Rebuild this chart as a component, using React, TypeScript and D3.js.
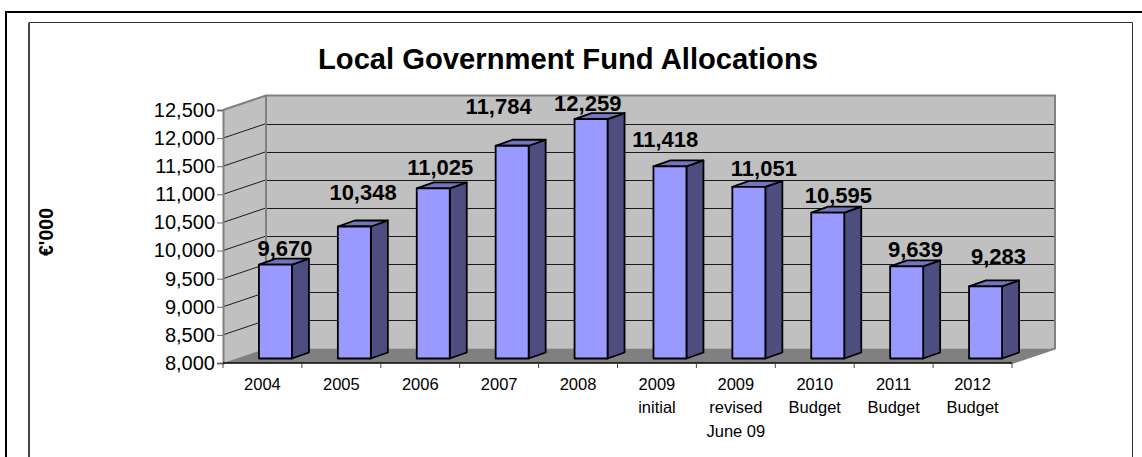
import React, {useRef, useEffect} from "react";
import * as d3 from "d3";

const categories = [
  ["2004"],
  ["2005"],
  ["2006"],
  ["2007"],
  ["2008"],
  ["2009", "initial"],
  ["2009", "revised", "June 09"],
  ["2010", "Budget"],
  ["2011", "Budget"],
  ["2012", "Budget"],
];
const values = [9670, 10348, 11025, 11784, 12259, 11418, 11051, 10595, 9639, 9283];
const yTicks = [8000, 8500, 9000, 9500, 10000, 10500, 11000, 11500, 12000, 12500];

// hand placed data labels, relative to the top of each bar
const labelDx = [9.6, 8.7, 7, -13.5, -3.3, -4.7, 15, 10.6, 8.8, 13];
const labelDy = [-8.6, -26.5, -13.4, -31.8, -8, -19.3, -11, -9.6, -9.4, -22.4];

const FONT = "Liberation Sans, Arial, sans-serif";

export default function App() {
  const svgRef = useRef<SVGSVGElement>(null);

  useEffect(() => {
    const svg = d3.select(svgRef.current);
    svg.selectAll("*").remove();

    const left = 223;
    const right = 1012;
    const top = 110;
    const bottom = 363;
    // depth of the 3D box and of one bar
    const depthX = 43;
    const depthY = -14.5;
    const barDepthX = 17;
    const barDepthY = -6;
    const barInsetX = 13;
    const barInsetY = -4.5;
    const barWidth = 33;

    const x = d3.scaleBand().domain(categories.map((_, i) => String(i))).range([left, right]);
    const y = d3.scaleLinear().domain([8000, 12500]).range([bottom, top]);
    const poly = (pts: number[][]) => `M${pts.map((p) => p.join(",")).join("L")}Z`;

    // Frame lines
    const frame = (d: string, stroke: string, w: number) =>
      svg.append("path").attr("d", d).attr("fill", "none").attr("stroke", stroke).attr("stroke-width", w);
    frame("M6,457V12H1142", "#000", 2);
    frame("M29,457V22.5H1132.5V457", "#333", 1);
    frame("M29,23V457", "#444", 2);

    // Walls and floor
    svg.append("path")
      .attr("d", poly([[left + depthX, top + depthY], [right + depthX, top + depthY], [right + depthX, bottom + depthY], [left + depthX, bottom + depthY]]))
      .attr("fill", "#c0c0c0");
    svg.append("path")
      .attr("d", poly([[left, top], [left + depthX, top + depthY], [left + depthX, bottom + depthY], [left, bottom]]))
      .attr("fill", "#c0c0c0");
    svg.append("path")
      .attr("d", poly([[left, bottom], [left + depthX, bottom + depthY], [right + depthX, bottom + depthY], [right, bottom]]))
      .attr("fill", "#808080");

    // Grid lines
    const grid = yTicks.filter((t) => t > 8000 && t < 12500);
    svg.selectAll(".grid-back")
      .data(grid)
      .join("line")
      .attr("class", "grid-back")
      .attr("x1", left + depthX)
      .attr("x2", right + depthX)
      .attr("y1", (d) => Math.round(y(d) + depthY) + 0.5)
      .attr("y2", (d) => Math.round(y(d) + depthY) + 0.5)
      .attr("stroke", "#1a1a1a");
    svg.selectAll(".grid-side")
      .data(grid)
      .join("line")
      .attr("class", "grid-side")
      .attr("x1", left)
      .attr("x2", left + depthX)
      .attr("y1", (d) => y(d))
      .attr("y2", (d) => y(d) + depthY)
      .attr("stroke", "#1a1a1a");

    // Wall edges
    frame(`M${left},${top}L${left + depthX},${top + depthY}H${right + depthX}V${bottom + depthY}L${right},${bottom}`, "#808080", 2);
    frame(`M${left + depthX},${top + depthY}V${bottom + depthY}`, "#808080", 2);

    // Bars
    const bars = svg.selectAll(".bar")
      .data(values)
      .join("g")
      .attr("class", "bar")
      .attr("stroke", "#000")
      .attr("stroke-width", 1.8)
      .attr("stroke-linejoin", "round");
    const barLeft = (i: number) => x(String(i))! + x.bandwidth() / 2 + barInsetX - barWidth / 2;
    const barBase = bottom + barInsetY;
    bars.append("path")
      .attr("fill", "#4d4d80")
      .attr("d", (d, i) => {
        const r = barLeft(i) + barWidth;
        const t = y(d) + barInsetY;
        return poly([[r, t], [r + barDepthX, t + barDepthY], [r + barDepthX, barBase + barDepthY], [r, barBase]]);
      });
    bars.append("path")
      .attr("fill", "#7373bf")
      .attr("d", (d, i) => {
        const l = barLeft(i);
        const t = y(d) + barInsetY;
        return poly([[l, t], [l + barDepthX, t + barDepthY], [l + barWidth + barDepthX, t + barDepthY], [l + barWidth, t]]);
      });
    bars.append("rect")
      .attr("fill", "#9999ff")
      .attr("x", (d, i) => barLeft(i))
      .attr("y", (d) => y(d) + barInsetY)
      .attr("width", barWidth)
      .attr("height", (d) => barBase - (y(d) + barInsetY));

    // Data labels
    svg.selectAll(".value")
      .data(values)
      .join("text")
      .attr("class", "value")
      .attr("x", (d, i) => barLeft(i) + barWidth / 2 + labelDx[i])
      .attr("y", (d, i) => y(d) + barInsetY + labelDy[i])
      .attr("text-anchor", "middle")
      .style("font-family", FONT)
      .style("font-size", "22px")
      .style("font-weight", "bold")
      .style("fill", "#000")
      .text((d) => d3.format(",")(d));

    // Axes
    const yAxis = svg.append("g")
      .attr("transform", `translate(${left},0)`)
      .call(d3.axisLeft(y).tickValues(yTicks).tickFormat(d3.format(",")).tickSize(6).tickPadding(2));
    yAxis.select(".domain").attr("stroke", "#808080").attr("stroke-width", 2);
    yAxis.selectAll("line").attr("stroke", "#666");
    yAxis.selectAll("text")
      .style("fill", "#000")
      .style("font-size", "20px")
      .style("font-family", FONT);

    svg.append("line")
      .attr("x1", left)
      .attr("x2", right)
      .attr("y1", bottom)
      .attr("y2", bottom)
      .attr("stroke", "#000")
      .attr("stroke-width", 1.5);
    svg.selectAll(".x-tick")
      .data([...categories.map((_, i) => x(String(i))!), right])
      .join("line")
      .attr("class", "x-tick")
      .attr("x1", (d) => d)
      .attr("x2", (d) => d)
      .attr("y1", bottom)
      .attr("y2", bottom + 5)
      .attr("stroke", "#444");

    const xLabels = svg.selectAll(".x-label")
      .data(categories)
      .join("text")
      .attr("class", "x-label")
      .attr("text-anchor", "middle")
      .style("font-family", FONT)
      .style("font-size", "16.5px")
      .style("fill", "#000");
    xLabels.selectAll("tspan")
      .data((d, i) => d.map((line, n) => ({line, n, i})))
      .join("tspan")
      .attr("x", (d) => x(String(d.i))! + x.bandwidth() / 2)
      .attr("y", (d) => 390 + d.n * 23.4)
      .text((d) => d.line);

    // Titles
    svg.append("text")
      .attr("x", 568)
      .attr("y", 69)
      .attr("text-anchor", "middle")
      .style("font-family", FONT)
      .style("font-size", "29.2px")
      .style("font-weight", "bold")
      .text("Local Government Fund Allocations");

    svg.append("text")
      .attr("transform", "translate(53,232) rotate(-90)")
      .attr("text-anchor", "middle")
      .style("font-family", FONT)
      .style("font-size", "19.5px")
      .style("font-weight", "bold")
      .text("€'000");

    return () => {
      svg.selectAll("*").remove();
    };
  }, []);

  return (
    <svg
      ref={svgRef}
      width={1142}
      height={457}
      style={{position: "absolute", left: 0, top: 0, background: "#fff"}}
    />
  );
}
